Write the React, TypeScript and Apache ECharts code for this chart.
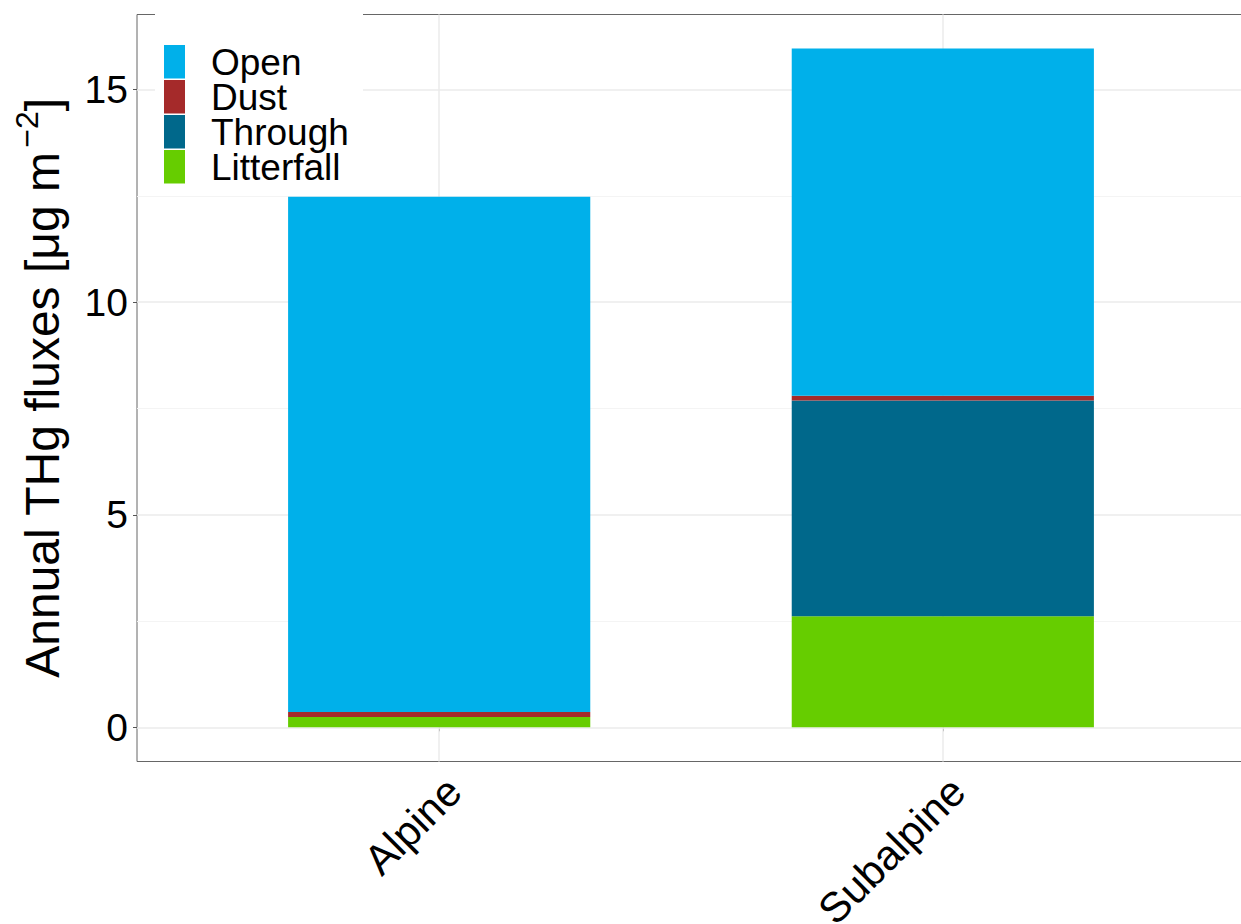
import React, { useEffect, useRef } from "react";
import * as echarts from "echarts";

// Sites along the x axis and their positions on the continuous scale
const categories = ["Alpine", "Subalpine"];
const positions = [1, 2];

// Annual THg fluxes per component (µg m^-2), stacked bottom to top
const litterfall = [0.24, 2.61];
const through = [0, 5.08];
const dust = [0.12, 0.11];
const open = [12.12, 8.17];

const stackOrder = ["Litterfall", "Through", "Dust", "Open"];
const legendOrder = ["Open", "Dust", "Through", "Litterfall"];
const colors: Record<string, string> = {
  Open: "#00B0EA",
  Dust: "#A52A2A",
  Through: "#00688B",
  Litterfall: "#66CD00",
};
const values: Record<string, number[]> = {
  Litterfall: litterfall,
  Through: through,
  Dust: dust,
  Open: open,
};

const yTicks = [0, 5, 10, 15];
const yMinor = [2.5, 7.5, 12.5];

const W = 1241;
const H = 924;
const GRID = { left: 137, right: -4, top: 14.5, bottom: 162.5 };
const X_MIN = 0.4;
const X_MAX = 2.6;
const Y_MIN = -0.805;
const Y_MAX = 16.77;

export default function App() {
  const ref = useRef<HTMLDivElement>(null);

  useEffect(() => {
    if (!ref.current) return;
    const chart = echarts.init(ref.current, null, { renderer: "svg" });

    const plotW = W - GRID.left - GRID.right;
    const barWidth = (0.6 * plotW) / (X_MAX - X_MIN);

    const gridLines = [
      ...yTicks.map((v) => ({ yAxis: v, lineStyle: { color: "#EBEBEB", width: 1.5, type: "solid" } })),
      ...yMinor.map((v) => ({ yAxis: v, lineStyle: { color: "#F4F4F4", width: 1, type: "solid" } })),
      ...positions.map((v) => ({ xAxis: v, lineStyle: { color: "#EBEBEB", width: 1.5, type: "solid" } })),
    ];

    // Value column first so that stacking happens along y
    const series = stackOrder.map((name, i) => ({
      name,
      type: "bar",
      stack: "total",
      barWidth,
      z: 2,
      encode: { x: 1, y: 0 },
      itemStyle: { color: colors[name] },
      data: positions.map((p, j) => [values[name][j], p]),
      ...(i === 0
        ? {
            markLine: {
              z: 1,
              silent: true,
              animation: false,
              symbol: ["none", "none"],
              label: { show: false },
              data: gridLines,
            },
          }
        : {}),
    }));

    // Legend drawn over the top-left of the panel on a white box
    const legendX = 164;
    const legendY = 45;
    const keyPitch = 35;
    const legendGraphics: any[] = [
      {
        type: "rect",
        shape: { x: 155, y: 0, width: 208, height: 193 },
        style: { fill: "#FFFFFF" },
        z: 10,
      },
    ];
    legendOrder.forEach((name, i) => {
      legendGraphics.push({
        type: "rect",
        shape: { x: legendX, y: legendY + i * keyPitch, width: 21, height: keyPitch - 1.5 },
        style: { fill: colors[name] },
        z: 11,
      });
      legendGraphics.push({
        type: "text",
        x: 211,
        y: legendY + i * keyPitch + keyPitch / 2,
        style: {
          text: name,
          fill: "#000000",
          font: "37px 'Liberation Sans', Arial, sans-serif",
          lineHeight: 34,
          verticalAlign: "middle",
          align: "left",
        },
        z: 11,
      });
    });

    chart.setOption({
      animation: false,
      backgroundColor: "#FFFFFF",
      textStyle: { fontFamily: "'Liberation Sans', Arial, sans-serif" },
      grid: {
        ...GRID,
        show: true,
        borderColor: "#666666",
        borderWidth: 1,
        backgroundColor: "transparent",
        containLabel: false,
        outerBoundsMode: "none",
      },
      xAxis: {
        type: "value",
        min: X_MIN,
        max: X_MAX,
        axisLine: { show: false },
        splitLine: { show: false },
        axisTick: {
          show: true,
          customValues: positions,
          length: 4,
          lineStyle: { color: "#555555" },
        },
        axisLabel: {
          customValues: positions,
          formatter: (v: number) => categories[Math.round(v) - 1] ?? "",
          rotate: 45,
          fontSize: 42,
          color: "#000000",
          margin: 8,
          verticalAlign: "top",
        },
      },
      yAxis: {
        type: "value",
        min: Y_MIN,
        max: Y_MAX,
        axisLine: { show: false },
        splitLine: { show: false },
        axisTick: {
          show: true,
          customValues: yTicks,
          length: 4,
          lineStyle: { color: "#555555" },
        },
        axisLabel: {
          customValues: yTicks,
          fontSize: 39,
          color: "#000000",
          margin: 9,
        },
        name: "Annual THg fluxes [μg m{sup|−2}]",
        nameLocation: "middle",
        nameRotate: 90,
        nameGap: 64,
        nameTextStyle: {
          fontSize: 48,
          color: "#000000",
          rich: {
            sup: { fontSize: 32, color: "#000000", padding: [0, 0, 30, 4] },
          },
        },
      },
      graphic: legendGraphics,
      series,
    });

    return () => chart.dispose();
  }, []);

  return (
    <div
      ref={ref}
      style={{ position: "absolute", left: 0, top: 0, width: W, height: H }}
    />
  );
}
